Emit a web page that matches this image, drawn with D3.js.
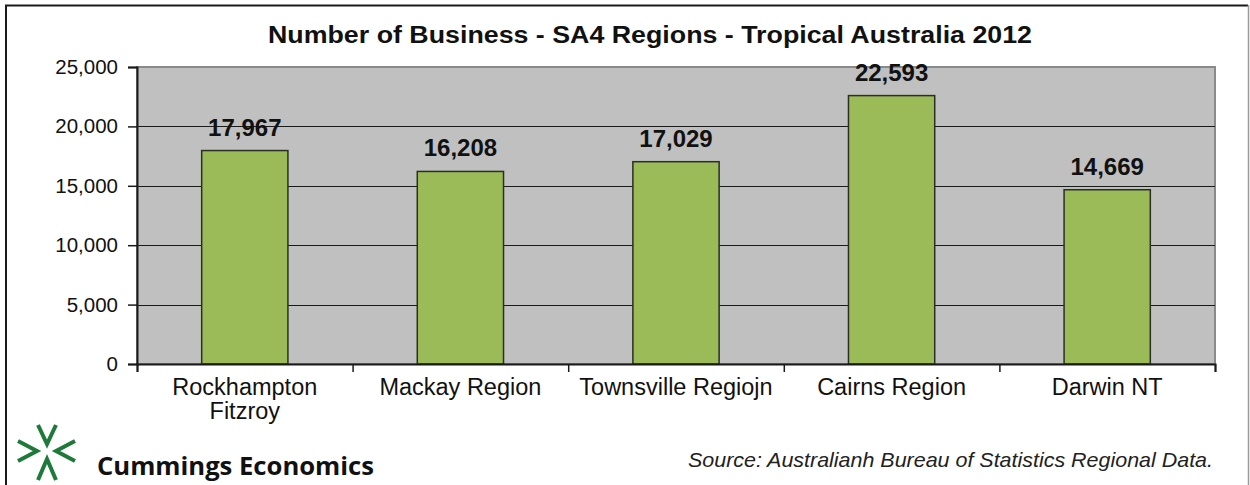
<!DOCTYPE html>
<html>
<head>
<meta charset="utf-8">
<script src="https://cdn.jsdelivr.net/npm/d3@7"></script>
<style>
  html, body { margin: 0; padding: 0; background: #fff; }
  svg { display: block; }
</style>
</head>
<body>
<svg id="chart" width="1250" height="485"></svg>
<script>
// Business counts by SA4 region, 2012
const regions = [["Rockhampton", "Fitzroy"], ["Mackay Region"], ["Townsville Regiojn"], ["Cairns Region"], ["Darwin NT"]];
const businessCounts = [17967, 16208, 17029, 22593, 14669];
const yTicks = [0, 5000, 10000, 15000, 20000, 25000];

const W = 1250, H = 485;
const plot = { left: 137, right: 1215, top: 67, bottom: 364 };

const svg = d3.select("#chart");
const fmt = d3.format(",");

// outer frame
svg.append("rect").attr("x", 0).attr("y", 0).attr("width", W).attr("height", H).attr("fill", "#fff");
svg.append("line").attr("x1", 6).attr("x2", 6).attr("y1", 5).attr("y2", H).attr("stroke", "#1a1a1a").attr("stroke-width", 2);
svg.append("line").attr("x1", 5).attr("x2", 1248).attr("y1", 5.5).attr("y2", 5.5).attr("stroke", "#1a1a1a").attr("stroke-width", 2);
svg.append("line").attr("x1", 1248.5).attr("x2", 1248.5).attr("y1", 5).attr("y2", H).attr("stroke", "#9a9a9a").attr("stroke-width", 1.5);

const x = d3.scaleBand()
  .domain(d3.range(regions.length))
  .range([plot.left, plot.right])
  .paddingInner(0.6)
  .paddingOuter(0.3);

const xEdge = d3.scaleLinear().domain([0, regions.length]).range([plot.left, plot.right]);

const y = d3.scaleLinear().domain([0, 25000]).range([plot.bottom, plot.top]);

// plot area
svg.append("rect")
  .attr("x", plot.left).attr("y", plot.top)
  .attr("width", plot.right - plot.left).attr("height", plot.bottom - plot.top)
  .attr("fill", "#c0c0c0")
  .attr("stroke", "#8a8a8a").attr("stroke-width", 2);

// gridlines
svg.append("g").selectAll("line")
  .data(yTicks.filter(d => d > 0 && d < 25000))
  .join("line")
    .attr("x1", plot.left).attr("x2", plot.right)
    .attr("y1", d => Math.round(y(d)) + 0.5).attr("y2", d => Math.round(y(d)) + 0.5)
    .attr("stroke", "#1a1a1a").attr("stroke-width", 1.2);

// bars
svg.append("g").selectAll("rect")
  .data(businessCounts)
  .join("rect")
    .attr("x", (d, i) => x(i))
    .attr("y", d => y(d))
    .attr("width", x.bandwidth())
    .attr("height", d => y(0) - y(d))
    .attr("fill", "#9bbb59")
    .attr("stroke", "#2a2f22").attr("stroke-width", 1.5);

// data labels
svg.append("g").selectAll("text")
  .data(businessCounts)
  .join("text")
    .attr("x", (d, i) => x(i) + x.bandwidth() / 2)
    .attr("y", d => y(d) - 15)
    .attr("text-anchor", "middle")
    .attr("font-family", "Liberation Sans, Arial, sans-serif")
    .attr("font-weight", "bold")
    .attr("font-size", 24)
    .attr("fill", "#111")
    .text(d => fmt(d));

// y axis
const yAxis = svg.append("g")
  .attr("transform", `translate(${plot.left},0)`)
  .call(d3.axisLeft(y).tickValues(yTicks).tickFormat(fmt).tickSize(9).tickPadding(10));
yAxis.select(".domain").attr("stroke", "#1a1a1a").attr("stroke-width", 2);
yAxis.selectAll(".tick line").attr("stroke", "#1a1a1a").attr("stroke-width", 1.5);
yAxis.selectAll(".tick text")
  .attr("font-family", "Liberation Sans, Arial, sans-serif")
  .attr("font-size", 20.5).attr("fill", "#111");

// x axis baseline and category dividers
const xAxis = svg.append("g")
  .attr("transform", `translate(0,${plot.bottom})`)
  .call(d3.axisBottom(xEdge).tickValues(d3.range(regions.length + 1)).tickFormat("").tickSize(8));
xAxis.select(".domain").attr("stroke", "#1a1a1a").attr("stroke-width", 2);
xAxis.selectAll(".tick line").attr("stroke", "#1a1a1a").attr("stroke-width", 1.5);

// category labels
const catLabels = svg.append("g").selectAll("text")
  .data(regions)
  .join("text")
    .attr("x", (d, i) => x(i) + x.bandwidth() / 2)
    .attr("y", 395)
    .attr("text-anchor", "middle")
    .attr("font-family", "Liberation Sans, Arial, sans-serif")
    .attr("font-size", 23.5)
    .attr("fill", "#111");
catLabels.selectAll("tspan")
  .data(d => d)
  .join("tspan")
    .attr("x", function() { return this.parentNode.getAttribute("x"); })
    .attr("dy", (d, i) => i === 0 ? 0 : 24)
    .text(d => d);

// title
svg.append("text")
  .attr("x", 268).attr("y", 43)
  .attr("textLength", 764)
  .attr("lengthAdjust", "spacingAndGlyphs")
  .attr("font-family", "Liberation Sans, Arial, sans-serif")
  .attr("font-weight", "bold")
  .attr("font-size", 23)
  .attr("fill", "#111")
  .text("Number of Business - SA4 Regions - Tropical Australia 2012");

// source note
svg.append("text")
  .attr("x", 688).attr("y", 467)
  .attr("textLength", 525)
  .attr("lengthAdjust", "spacingAndGlyphs")
  .attr("font-family", "Liberation Sans, Arial, sans-serif")
  .attr("font-style", "italic")
  .attr("font-size", 21)
  .attr("fill", "#222")
  .text("Source:  Australianh Bureau of Statistics Regional Data.");

// logo
const logo = svg.append("g")
  .attr("fill", "none")
  .attr("stroke", "#1f7a3a")
  .attr("stroke-width", 4)
  .attr("stroke-linecap", "butt");
logo.append("path").attr("d", "M38,425 L47,444 L56,425");
logo.append("path").attr("d", "M18,441 L37,451 L18,461");
logo.append("path").attr("d", "M75,441 L56,451 L75,461");
logo.append("path").attr("d", "M38,480 L47,459 L56,480");

svg.append("text")
  .attr("x", 97).attr("y", 475)
  .attr("textLength", 277)
  .attr("lengthAdjust", "spacingAndGlyphs")
  .attr("font-family", "Open Sans, sans-serif")
  .attr("font-weight", 700)
  .attr("font-size", 25)
  .attr("fill", "#111")
  .text("Cummings Economics");
</script>
</body>
</html>
